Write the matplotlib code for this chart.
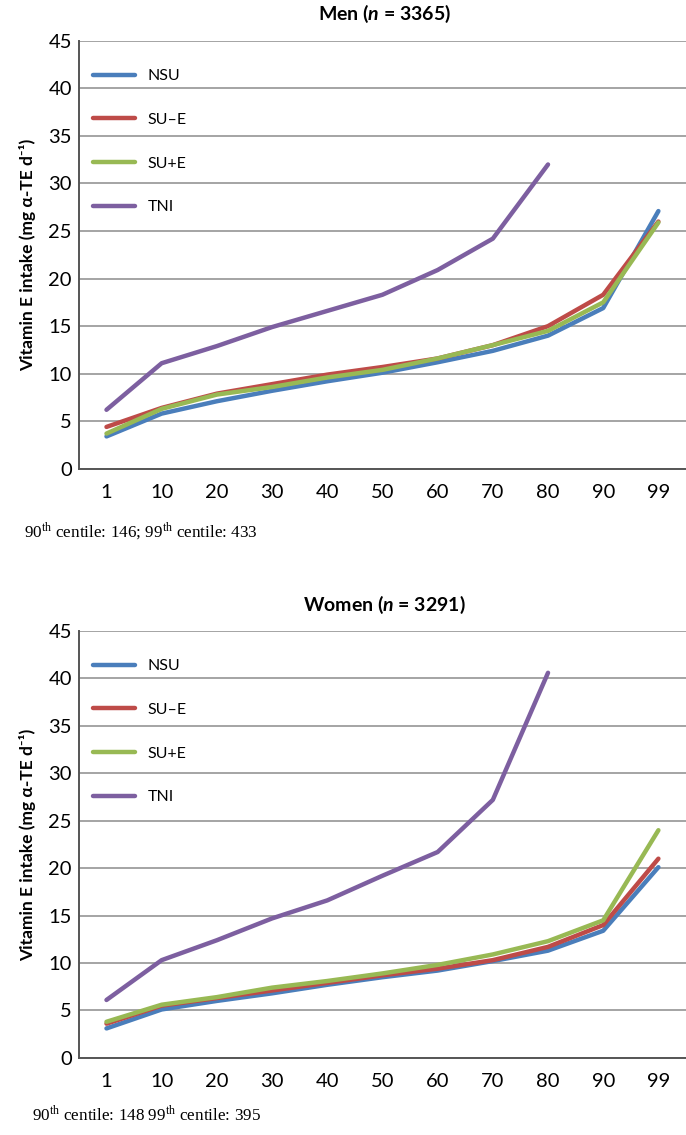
import matplotlib
matplotlib.use("Agg")
import matplotlib.pyplot as plt

plt.rcParams["font.family"] = ["Lato", "DejaVu Sans"]
plt.rcParams["mathtext.fontset"] = "custom"
plt.rcParams["mathtext.rm"] = "Liberation Serif"
plt.rcParams["mathtext.it"] = "Lato:italic:bold"
plt.rcParams["mathtext.bf"] = "Lato:bold"

centiles = ["1", "10", "20", "30", "40", "50", "60", "70", "80", "90", "99"]
series_names = ["NSU", "SU\u2013E", "SU+E", "TNI"]
colors = ["#4a7ebb", "#be4b48", "#98b954", "#7d5fa0"]

men_nsu = [3.4, 5.8, 7.1, 8.2, 9.2, 10.1, 11.2, 12.4, 14.0, 16.9, 27.1]
men_sue = [4.4, 6.4, 7.9, 8.9, 9.9, 10.7, 11.6, 13.0, 15.0, 18.3, 26.0]
men_spe = [3.7, 6.3, 7.8, 8.6, 9.6, 10.4, 11.6, 13.0, 14.5, 17.5, 25.9]
men_tni = [6.2, 11.1, 12.9, 14.9, 16.6, 18.3, 20.9, 24.2, 32.0]

women_nsu = [3.1, 5.1, 6.0, 6.8, 7.7, 8.5, 9.2, 10.2, 11.3, 13.4, 20.1]
women_sue = [3.6, 5.5, 6.3, 7.1, 7.9, 8.7, 9.4, 10.3, 11.7, 14.0, 21.0]
women_spe = [3.8, 5.6, 6.4, 7.4, 8.1, 8.9, 9.8, 10.9, 12.3, 14.5, 24.0]
women_tni = [6.1, 10.3, 12.4, 14.7, 16.6, 19.2, 21.7, 27.2, 40.6]

panels = [
    ("Men ($\\mathit{n}$ = 3365)", [men_nsu, men_sue, men_spe, men_tni],
     "90$^{\\rm th}$ centile: 146; 99$^{\\rm th}$ centile: 433"),
    ("Women ($\\mathit{n}$ = 3291)", [women_nsu, women_sue, women_spe, women_tni],
     "90$^{\\rm th}$ centile: 148 99$^{\\rm th}$ centile: 395"),
]

fig = plt.figure(figsize=(6.86, 11.35), dpi=100)
axes_pos = [[0.115, 0.587, 0.885, 0.377], [0.115, 0.068, 0.885, 0.376]]
title_y = [0.997, 0.477]
note_pos = [(0.035, 0.527), (0.047, 0.013)]

for i, (title, data, note) in enumerate(panels):
    ax = fig.add_axes(axes_pos[i])
    for name, vals, c in zip(series_names, data, colors):
        ax.plot(range(len(vals)), vals, color=c, linewidth=3.2, label=name,
                solid_capstyle="round")
    ax.set_xlim(-0.5, len(centiles) - 0.5)
    ax.set_ylim(0, 45)
    ax.set_yticks(range(0, 46, 5))
    ax.set_xticks(range(len(centiles)))
    ax.set_xticklabels(centiles)
    ax.tick_params(axis="both", length=0, labelsize=14.5, colors="black")
    ax.tick_params(axis="x", pad=11)
    ax.tick_params(axis="y", pad=5)
    ax.grid(axis="y", color="#8c8c8c", linewidth=1.1)
    ax.set_axisbelow(True)
    for s in ["top", "right"]:
        ax.spines[s].set_visible(False)
    for s in ["left", "bottom"]:
        ax.spines[s].set_color("#555555")
        ax.spines[s].set_linewidth(1.4)
    ax.set_ylabel("Vitamin E intake (mg \u03b1-TE d\u207b\u00b9)", fontsize=12.5,
                  fontweight="bold", labelpad=9)
    ax.legend(loc="upper left", frameon=False, fontsize=11.5, handlelength=2.6,
              labelspacing=1.85, bbox_to_anchor=(0.0, 0.968))
    fig.text(0.56, title_y[i], title, ha="center", va="top", fontsize=14,
             fontweight="bold")
    fig.text(note_pos[i][0], note_pos[i][1], note, fontsize=12.3,
             family="Liberation Serif")

fig.savefig("out.png", dpi=100)
